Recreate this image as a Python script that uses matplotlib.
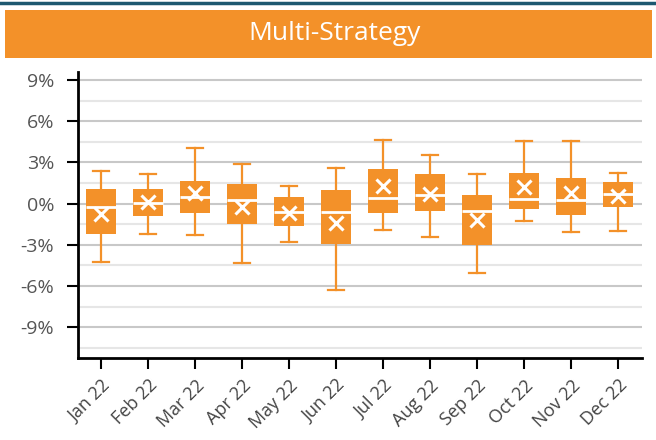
import matplotlib.pyplot as plt
from matplotlib.patches import Rectangle
from matplotlib.ticker import MultipleLocator, FuncFormatter

months = ["Jan 22", "Feb 22", "Mar 22", "Apr 22", "May 22", "Jun 22",
          "Jul 22", "Aug 22", "Sep 22", "Oct 22", "Nov 22", "Dec 22"]
whisker_hi = [2.40, 2.16, 4.06, 2.89, 1.29, 2.62, 4.64, 3.55, 2.16, 4.52, 4.59, 2.23]
q3 = [1.07, 1.07, 1.63, 1.41, 0.49, 0.97, 2.50, 2.14, 0.61, 2.21, 1.85, 1.56]
median = [-0.24, 0.07, 0.49, 0.27, -0.58, -0.58, 0.41, 0.63, -0.56, 0.37, 0.27, 0.71]
q1 = [-2.18, -0.87, -0.65, -1.46, -1.60, -2.91, -0.65, -0.51, -2.98, -0.36, -0.80, -0.22]
whisker_lo = [-4.22, -2.18, -2.26, -4.29, -2.79, -6.26, -1.92, -2.40, -5.02, -1.26, -2.06, -1.99]
mean = [-0.77, 0.10, 0.78, -0.24, -0.65, -1.43, 1.29, 0.68, -1.19, 1.22, 0.78, 0.56]

orange = "#F39129"
plt.rcParams["font.family"] = ["Open Sans", "DejaVu Sans"]

fig = plt.figure(figsize=(6.56, 4.4), dpi=100)

# header: dark line + orange title bar
fig.add_artist(plt.Line2D([0, 1], [0.994, 0.994], color="#1d5870", lw=2.5,
                          transform=fig.transFigure))
fig.add_artist(Rectangle((5 / 656, 1 - 58 / 440), 647 / 656, 48 / 440,
                         transform=fig.transFigure, color=orange, lw=0))
fig.text(0.51, 1 - 34 / 440, "Multi-Strategy", color="white", fontsize=19,
         ha="center", va="center")

ax = fig.add_axes([77.7 / 656, 1 - 358.3 / 440, 564 / 656, 286.6 / 440])

stats = []
for i in range(len(months)):
    stats.append({"whislo": whisker_lo[i], "q1": q1[i], "med": median[i],
                  "q3": q3[i], "whishi": whisker_hi[i], "mean": mean[i],
                  "fliers": []})

ax.bxp(stats, positions=range(len(months)), widths=0.65, patch_artist=True,
       showmeans=True, showfliers=False,
       boxprops=dict(facecolor=orange, edgecolor=orange, linewidth=0),
       medianprops=dict(color="white", linewidth=2),
       whiskerprops=dict(color=orange, linewidth=1.6),
       capprops=dict(color=orange, linewidth=1.6),
       capwidths=0.34,
       meanprops=dict(marker="x", markeredgecolor="white", markersize=10,
                      markeredgewidth=2.2))

ax.set_xlim(-0.5, len(months) - 0.5)
ax.set_ylim(-11.26, 9.6)
ax.yaxis.set_major_locator(MultipleLocator(3))
ax.yaxis.set_minor_locator(MultipleLocator(1.5))
ax.yaxis.set_major_formatter(FuncFormatter(lambda v, p: f"{v:.0f}%"))
ax.grid(axis="y", which="major", color="#c8c8c8", lw=1.5)
ax.grid(axis="y", which="minor", color="#e6e6e6", lw=1.5)
ax.set_axisbelow(True)
ax.tick_params(axis="y", which="minor", length=0)
ax.tick_params(axis="y", which="major", length=8, width=1.5, labelsize=14,
               labelcolor="#555555", pad=9)
ax.tick_params(axis="x", length=8, width=1.5, labelsize=13,
               labelcolor="#444444", pad=5)
ax.set_xticks(range(len(months)))
ax.set_xticklabels(months, rotation=45, ha="right", rotation_mode="anchor")

for s in ["top", "right"]:
    ax.spines[s].set_visible(False)
for s in ["left", "bottom"]:
    ax.spines[s].set_linewidth(2)
    ax.spines[s].set_color("black")

fig.savefig("out.png", dpi=100)
